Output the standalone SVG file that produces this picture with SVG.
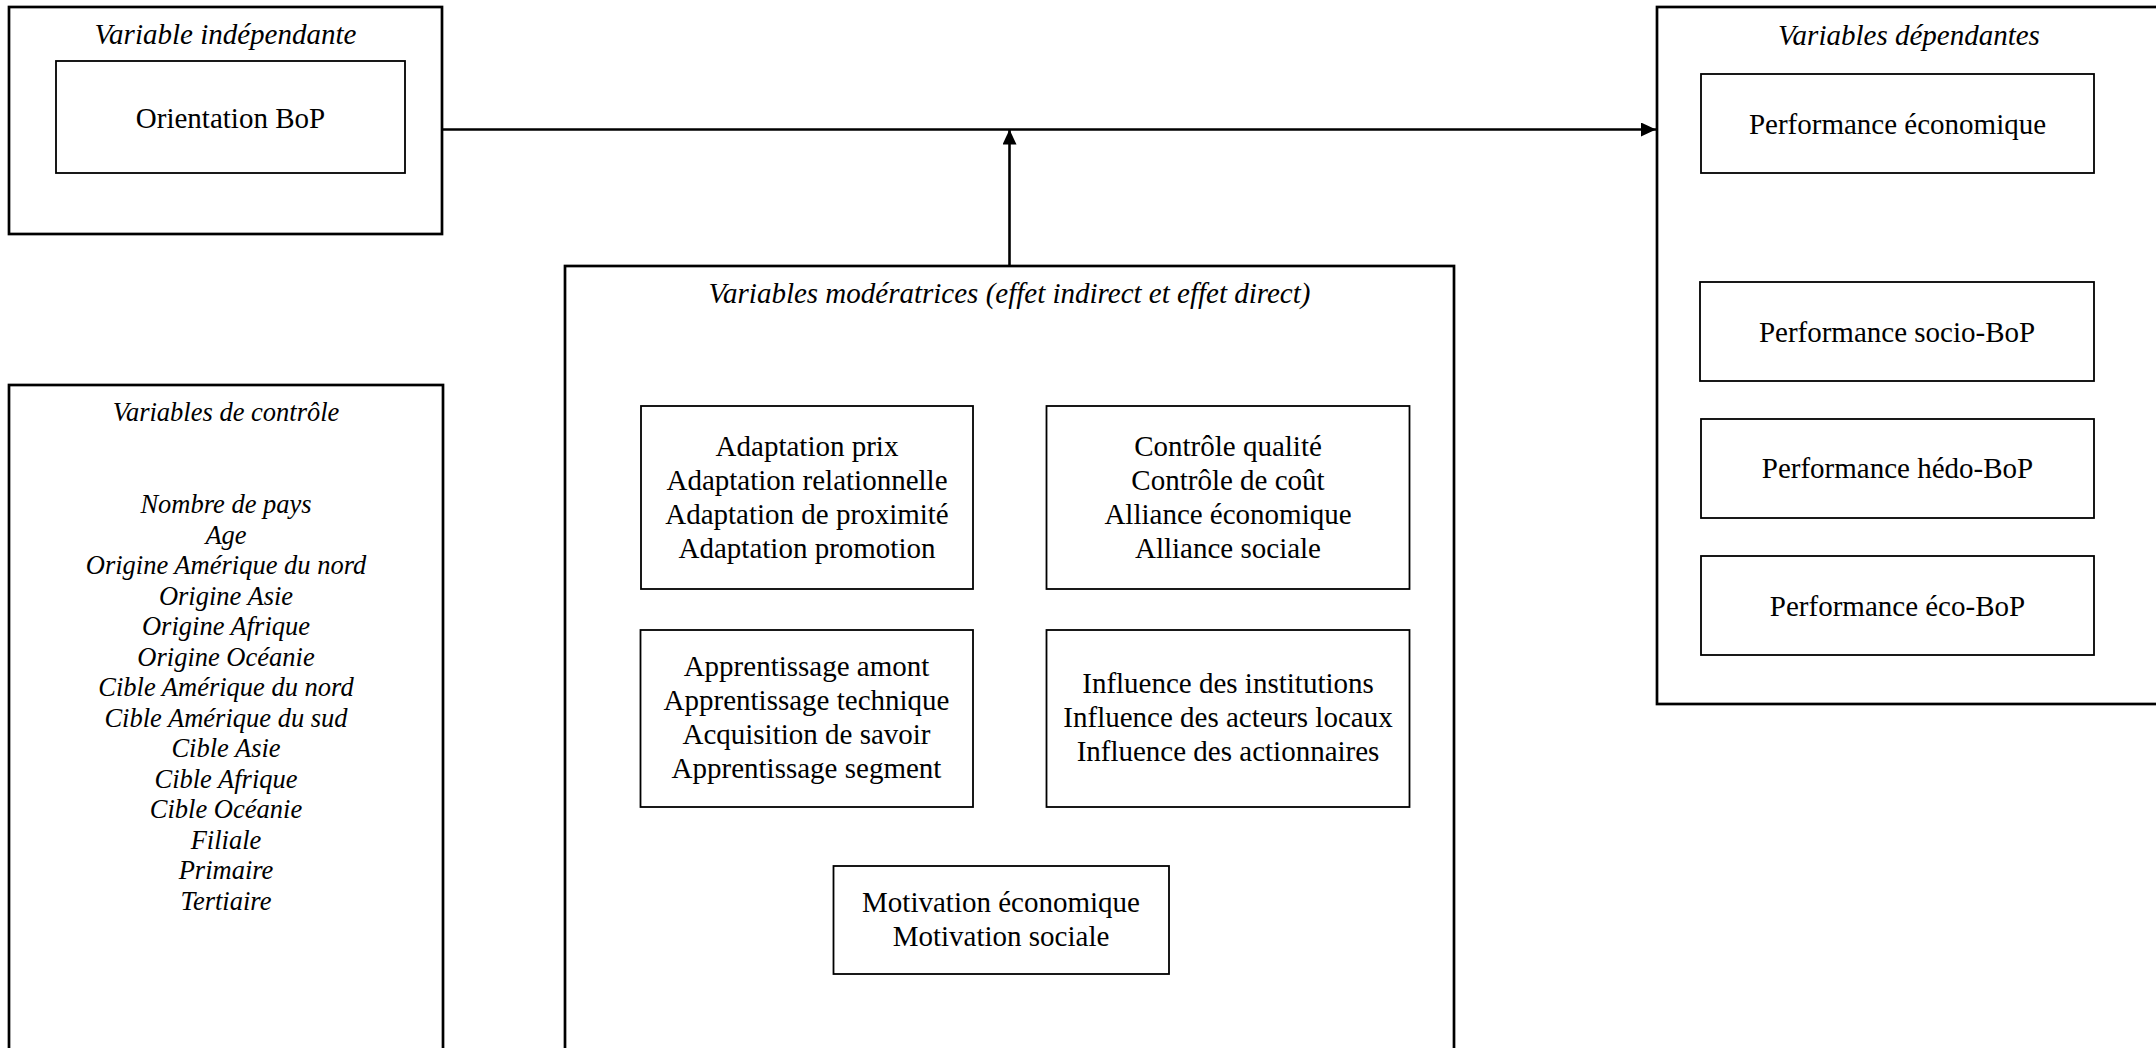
<svg xmlns="http://www.w3.org/2000/svg" width="2156" height="1048" viewBox="0 0 2156 1048">
  <style>
    .outer { fill: none; stroke: #000; stroke-width: 2.7; }
    .inner { fill: none; stroke: #000; stroke-width: 1.8; }
    .lbl { font-family: "Liberation Serif", "Times New Roman", serif; font-size: 29px; fill: #000; text-anchor: middle; }
    .ttl { font-family: "Liberation Serif", "Times New Roman", serif; font-size: 29px; font-style: italic; fill: #000; text-anchor: middle; }
    .ctl { font-family: "Liberation Serif", "Times New Roman", serif; font-size: 26.5px; font-style: italic; fill: #000; text-anchor: middle; }
    .conn { fill: none; stroke: #000; stroke-width: 2.6; }
  </style>
  <defs>
    <marker id="arrow" markerUnits="userSpaceOnUse" markerWidth="16" markerHeight="15" refX="15" refY="7" orient="auto">
      <path d="M0,0 L15,7 L0,14 Z" fill="#000"/>
    </marker>
  </defs>
  <rect width="2156" height="1048" fill="#fff"/>

  <!-- Independent variable -->
  <g id="independante">
    <rect class="outer" x="9" y="7" width="433" height="227"/>
    <text class="ttl" x="225.5" y="44">Variable indépendante</text>
    <g id="orientation-bop">
      <rect class="inner" x="56" y="61" width="349" height="112"/>
      <text class="lbl" x="230.5" y="128">Orientation BoP</text>
    </g>
  </g>

  <!-- Dependent variables -->
  <g id="dependantes">
    <rect class="outer" x="1657" y="7" width="510" height="697"/>
    <text class="ttl" x="1909" y="45">Variables dépendantes</text>
    <g id="perf-economique">
      <rect class="inner" x="1701" y="74" width="393" height="99"/>
      <text class="lbl" x="1897.5" y="134">Performance économique</text>
    </g>
    <g id="perf-socio">
      <rect class="inner" x="1700" y="282" width="394" height="99"/>
      <text class="lbl" x="1897" y="342">Performance socio-BoP</text>
    </g>
    <g id="perf-hedo">
      <rect class="inner" x="1701" y="419" width="393" height="99"/>
      <text class="lbl" x="1897.5" y="478">Performance hédo-BoP</text>
    </g>
    <g id="perf-eco">
      <rect class="inner" x="1701" y="556" width="393" height="99"/>
      <text class="lbl" x="1897.5" y="616">Performance éco-BoP</text>
    </g>
  </g>

  <!-- Control variables -->
  <g id="controle">
    <rect class="outer" x="9" y="385" width="434" height="700"/>
    <text class="ctl" x="226" y="421">Variables de contrôle</text>
    <text class="ctl" x="226" y="513">Nombre de pays</text>
    <text class="ctl" x="226" y="543.5">Age</text>
    <text class="ctl" x="226" y="574">Origine Amérique du nord</text>
    <text class="ctl" x="226" y="604.5">Origine Asie</text>
    <text class="ctl" x="226" y="635">Origine Afrique</text>
    <text class="ctl" x="226" y="665.5">Origine Océanie</text>
    <text class="ctl" x="226" y="696">Cible Amérique du nord</text>
    <text class="ctl" x="226" y="726.5">Cible Amérique du sud</text>
    <text class="ctl" x="226" y="757">Cible Asie</text>
    <text class="ctl" x="226" y="787.5">Cible Afrique</text>
    <text class="ctl" x="226" y="818">Cible Océanie</text>
    <text class="ctl" x="226" y="848.5">Filiale</text>
    <text class="ctl" x="226" y="879">Primaire</text>
    <text class="ctl" x="226" y="909.5">Tertiaire</text>
  </g>

  <!-- Moderating variables -->
  <g id="moderatrices">
    <rect class="outer" x="565" y="266" width="889" height="820"/>
    <text class="ttl" x="1009.5" y="303">Variables modératrices (effet indirect et effet direct)</text>
    <g id="adaptation">
      <rect class="inner" x="641" y="406" width="332" height="183"/>
      <text class="lbl" x="807" y="456">Adaptation prix</text>
      <text class="lbl" x="807" y="490">Adaptation relationnelle</text>
      <text class="lbl" x="807" y="524">Adaptation de proximité</text>
      <text class="lbl" x="807" y="558">Adaptation promotion</text>
    </g>
    <g id="controle-alliance">
      <rect class="inner" x="1046.5" y="406" width="363" height="183"/>
      <text class="lbl" x="1228" y="456">Contrôle qualité</text>
      <text class="lbl" x="1228" y="490">Contrôle de coût</text>
      <text class="lbl" x="1228" y="524">Alliance économique</text>
      <text class="lbl" x="1228" y="558">Alliance sociale</text>
    </g>
    <g id="apprentissage">
      <rect class="inner" x="640.5" y="630" width="332.5" height="177"/>
      <text class="lbl" x="806.5" y="676">Apprentissage amont</text>
      <text class="lbl" x="806.5" y="710">Apprentissage technique</text>
      <text class="lbl" x="806.5" y="744">Acquisition de savoir</text>
      <text class="lbl" x="806.5" y="778">Apprentissage segment</text>
    </g>
    <g id="influence">
      <rect class="inner" x="1046.5" y="630" width="363" height="177"/>
      <text class="lbl" x="1228" y="693">Influence des institutions</text>
      <text class="lbl" x="1228" y="727">Influence des acteurs locaux</text>
      <text class="lbl" x="1228" y="761">Influence des actionnaires</text>
    </g>
    <g id="motivation">
      <rect class="inner" x="833.5" y="866" width="335.5" height="108"/>
      <text class="lbl" x="1001" y="912">Motivation économique</text>
      <text class="lbl" x="1001" y="946">Motivation sociale</text>
    </g>
  </g>

  <!-- Connectors -->
  <g id="connectors">
    <line class="conn" x1="442" y1="129.5" x2="1656" y2="129.5" marker-end="url(#arrow)"/>
    <line class="conn" x1="1009.5" y1="266" x2="1009.5" y2="129.5" marker-end="url(#arrow)"/>
  </g>
</svg>
